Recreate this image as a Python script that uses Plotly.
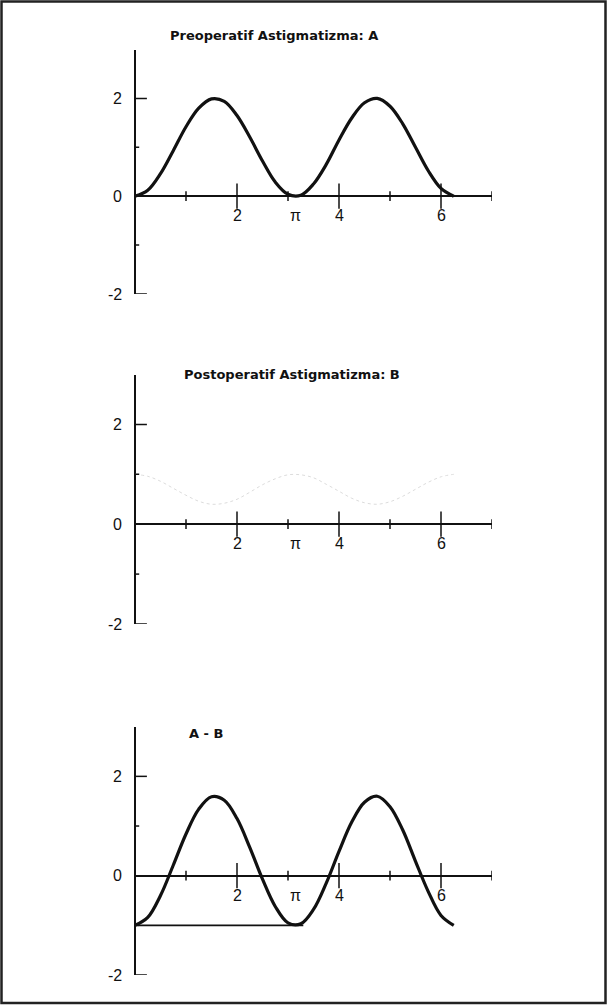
import plotly.graph_objects as go
import numpy as np

# ---------------- data ----------------
theta = [0.0, 0.25, 0.5, 0.75, 1.0, 1.25, 1.5, 1.75, 2.0, 2.25, 2.5, 2.75, 3.0,
         3.25, 3.5, 3.75, 4.0, 4.25, 4.5, 4.75, 5.0, 5.25, 5.5, 5.75, 6.0, 6.25]

pre_A = [0.0, 0.12, 0.46, 0.93, 1.42, 1.80, 1.99, 1.94, 1.65, 1.21, 0.72, 0.29, 0.04,
         0.02, 0.25, 0.65, 1.15, 1.60, 1.91, 2.0, 1.84, 1.48, 1.0, 0.52, 0.16, 0.0]

post_B = [1.0, 0.96, 0.86, 0.72, 0.58, 0.46, 0.40, 0.42, 0.50, 0.64, 0.79, 0.91, 0.99,
          0.99, 0.93, 0.80, 0.66, 0.52, 0.43, 0.40, 0.45, 0.56, 0.70, 0.84, 0.95, 1.0]

diff_AB = [-1.0, -0.84, -0.40, 0.21, 0.84, 1.34, 1.59, 1.52, 1.15, 0.57, -0.07, -0.62, -0.95,
           -0.97, -0.68, -0.15, 0.49, 1.08, 1.48, 1.60, 1.39, 0.92, 0.29, -0.32, -0.80, -1.0]

ref_level = [-1.0, -1.0]
ref_span = [0.0, 3.3]

x_major_ticks = [2, 4, 6]
x_minor_ticks = [1, 3, 5, 7]
y_major_ticks = [2, -2]
y_minor_ticks = [1, -1]

x_tick_labels = ["2", "π", "4", "6"]
x_tick_label_pos = [2, np.pi, 4, 6]
y_tick_labels = ["2", "0", "-2"]
y_tick_label_pos = [2, 0, -2]

titles = ["Preoperatif Astigmatizma: A", "Postoperatif Astigmatizma: B", "A - B"]

# ---------------- layout geometry ----------------
W, H = 608, 1006
def fx(px):
    return px / W
def fy(py):
    return 1 - py / H

X_DOM = [fx(135), fx(492)]
# (pixel of y=3, pixel of y=-2) for each panel
panel_px = [(49.5, 294), (374.5, 624), (726.7, 975)]
title_pos = [(168, 35), (182, 375), (187, 733)]

INK = "#111111"
FONT = "Liberation Sans"

fig = go.Figure()

series = [
    dict(y=pre_A, color=INK, width=3.2, dash="solid"),
    dict(y=post_B, color="#dcdcdc", width=1, dash="dot"),
    dict(y=diff_AB, color=INK, width=3.2, dash="solid"),
]

annotations = []
for i in range(3):
    xa = "x" if i == 0 else f"x{i+1}"
    ya = "y" if i == 0 else f"y{i+1}"
    s = series[i]
    fig.add_trace(go.Scatter(x=theta, y=s["y"], xaxis=xa, yaxis=ya, mode="lines",
                             line=dict(color=s["color"], width=s["width"], dash=s["dash"],
                                       shape="spline", smoothing=1.0),
                             showlegend=False, hoverinfo="skip"))
    if i == 2:
        fig.add_trace(go.Scatter(x=ref_span, y=ref_level, xaxis=xa, yaxis=ya, mode="lines",
                                 line=dict(color=INK, width=1.6), showlegend=False,
                                 hoverinfo="skip"))
    # crossing ticks
    fig.add_trace(go.Scatter(x=x_major_ticks, y=[0] * len(x_major_ticks), xaxis=xa, yaxis=ya,
                             mode="markers", marker=dict(symbol="line-ns", size=18,
                                                         line=dict(width=1.5, color=INK)),
                             showlegend=False, hoverinfo="skip"))
    fig.add_trace(go.Scatter(x=x_minor_ticks, y=[0] * len(x_minor_ticks), xaxis=xa, yaxis=ya,
                             mode="markers", marker=dict(symbol="line-ns", size=7,
                                                         line=dict(width=1.5, color=INK)),
                             showlegend=False, hoverinfo="skip"))
    fig.add_trace(go.Scatter(x=[0] * len(y_major_ticks), y=y_major_ticks, xaxis=xa, yaxis=ya,
                             mode="markers", marker=dict(symbol="line-ew", size=17,
                                                         line=dict(width=1.5, color=INK)),
                             showlegend=False, hoverinfo="skip"))
    fig.add_trace(go.Scatter(x=[0] * len(y_minor_ticks), y=y_minor_ticks, xaxis=xa, yaxis=ya,
                             mode="markers", marker=dict(symbol="line-ew", size=6,
                                                         line=dict(width=1.5, color=INK)),
                             showlegend=False, hoverinfo="skip"))

    top_px, bot_px = panel_px[i]
    xkey = "xaxis" if i == 0 else f"xaxis{i+1}"
    ykey = "yaxis" if i == 0 else f"yaxis{i+1}"
    fig.update_layout(**{
        xkey: dict(domain=X_DOM, range=[0, 7], anchor=ya, showgrid=False, zeroline=True,
                   zerolinecolor=INK, zerolinewidth=1.6, showticklabels=False, ticks="",
                   showline=False, fixedrange=True),
        ykey: dict(domain=[fy(bot_px), fy(top_px)], range=[-2, 3], anchor=xa, showgrid=False,
                   zeroline=True, zerolinecolor=INK, zerolinewidth=1.6, showticklabels=False,
                   ticks="", showline=False, fixedrange=True),
    })

    for lab, pos in zip(x_tick_labels, x_tick_label_pos):
        annotations.append(dict(x=pos, y=0, xref=xa, yref=ya, text=lab, showarrow=False,
                                yanchor="top", yshift=-9,
                                font=dict(family=FONT, size=16, color=INK)))
    for lab, pos in zip(y_tick_labels, y_tick_label_pos):
        annotations.append(dict(x=0, y=pos, xref=xa, yref=ya, text=lab, showarrow=False,
                                xanchor="right", xshift=-11,
                                font=dict(family=FONT, size=16, color=INK)))
    tx, ty = title_pos[i]
    annotations.append(dict(x=fx(tx), y=fy(ty), xref="paper", yref="paper", text=titles[i],
                            showarrow=False, xanchor="left", yanchor="middle",
                            font=dict(family="DejaVu Sans", size=13, color=INK,
                                      weight="bold")))

fig.update_layout(
    width=W, height=H, margin=dict(l=0, r=0, t=0, b=0),
    paper_bgcolor="white", plot_bgcolor="white",
    annotations=annotations,
    shapes=[dict(type="rect", xref="paper", yref="paper",
                 x0=fx(1.5), x1=fx(605.5), y0=fy(1003), y1=fy(1.5),
                 line=dict(color="#222222", width=2.5))],
)

fig.write_html("out.html", config={"displayModeBar": False},
               post_script="document.body.style.margin='0';document.body.style.overflow='hidden';")
